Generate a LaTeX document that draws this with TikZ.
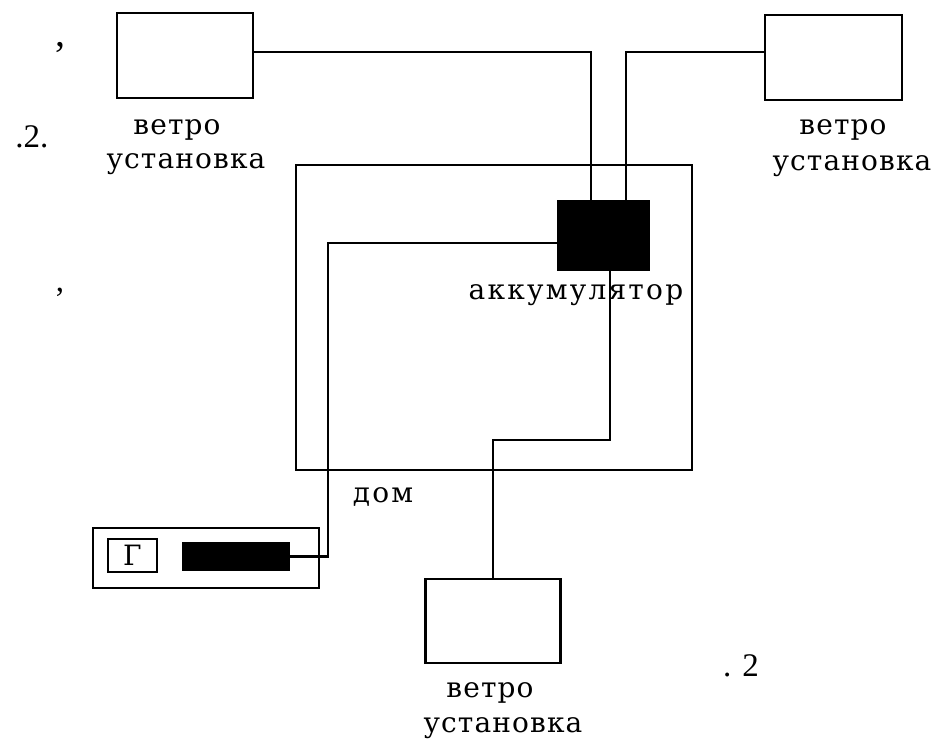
\documentclass[tikz,border=0pt]{standalone}
\usepackage{fontspec}
\setmainfont{Liberation Serif}
\newfontfamily\labelfont{DejaVu Serif}
\begin{document}
\begin{tikzpicture}[x=1pt,y=-1pt,
  line width=2.8pt,
  unit/.style={draw,minimum width=136pt,minimum height=85pt,inner sep=0pt},
  blk/.style={draw,fill=black,inner sep=0pt},
  lbl/.style={inner sep=0pt,font=\labelfont\fontsize{28}{32}\selectfont\addfontfeature{LetterSpace=4}},
  wide/.style={inner sep=0pt,font=\labelfont\fontsize{28}{32}\selectfont\addfontfeature{LetterSpace=8}},
  serif/.style={inner sep=0pt,font=\fontsize{33}{37}\selectfont},
  wire/.style={line width=2.4pt}]
\useasboundingbox (0,0) rectangle (938,742);

% house outline
\node[draw,minimum width=396pt,minimum height=305pt,inner sep=0pt] (house) at (494,317.5) {};

% wind turbines
\node[unit] (wt1) at (185,55.5) {};
\node[unit,minimum width=137pt] (wt2) at (833.5,57.5) {};
\node[unit,minimum width=135pt,minimum height=84pt] (wt3) at (493,621) {};

% accumulator
\node[blk,minimum width=91pt,minimum height=69pt] (acc) at (603.5,235.5) {};

% generator unit
\node[draw,minimum width=226pt,minimum height=60pt,inner sep=0pt] (gen) at (206,558) {};
\node[draw,line width=2.2pt,minimum width=49pt,minimum height=33pt,inner sep=0pt,
      font=\labelfont\fontsize{28}{32}\selectfont] (gbox) at (132.5,555.5) {Г};
\node[blk,minimum width=106pt,minimum height=27pt] (bar) at (236,556.5) {};

% bends of the wiring
\coordinate (lw) at (328,556.5);
\coordinate (bw) at (493,440);

% wiring
\draw[wire] (wt1.east |- 0,52) -| ([xshift=-12.5pt]acc.north);
\draw[wire] (wt2.west |- 0,52) -| ([xshift=22.5pt]acc.north);
\draw[wire] ([yshift=-7.5pt]acc.west) -| (lw) -- (bar.east);
\draw[wire] ([xshift=6.5pt]acc.south) |- (bw) -- (wt3.north);

% labels
\node[lbl] (l1a) at (177,130) {ветро};
\node[lbl] (l1b) at (186,164) {установка};
\node[lbl] (l2a) at (843,130) {ветро};
\node[lbl] (l2b) at (852,166) {установка};
\node[lbl] (l3a) at (490,693) {ветро};
\node[lbl] (l3b) at (503,728) {установка};
\node[wide] (lacc) at (576,295) {аккумулятор};
\node[wide] (lhouse) at (383,497) {дом};

% margin marks
\node[serif,font=\fontsize{40}{44}\selectfont] (m1) at (61,48) {,};
\node[serif] (m2) at (32,137) {.2.};
\node[serif] (m3) at (60,292) {,};
\node[serif] (m4) at (741,666) {. 2};
\end{tikzpicture}
\end{document}
